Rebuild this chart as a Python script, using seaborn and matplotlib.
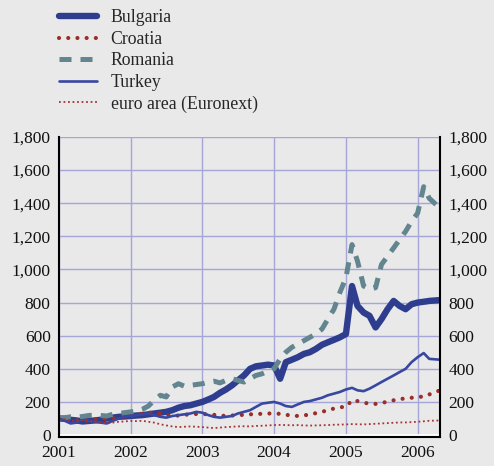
import pandas as pd
import matplotlib.pyplot as plt
import matplotlib.dates as mdates
from matplotlib.ticker import FuncFormatter
import seaborn as sns

# monthly index levels (Jan 2001 = 100)
bulgaria = [100, 98, 92, 88, 82, 85, 88, 92, 100, 105, 110, 112,
            115, 118, 120, 125, 130, 135, 140, 150, 165, 175, 180, 190,
            200, 215, 230, 255, 275, 300, 330, 360, 400, 415, 420, 425,
            420, 340, 440, 455, 470, 490, 500, 520, 545, 560, 575, 590,
            610, 900, 780, 740, 720, 650, 700, 760, 810, 780, 760, 790,
            800, 805, 810, 815]
croatia = [100, 95, 90, 88, 85, 88, 92, 95, 98, 100, 105, 110,
           115, 120, 130, 135, 135, 130, 120, 115, 118, 122, 125, 127,
           127, 125, 122, 118, 115, 118, 120, 122, 125, 127, 128, 130,
           130, 128, 122, 118, 115, 118, 125, 132, 140, 150, 160, 168,
           170, 210, 205, 195, 190, 188, 195, 200, 210, 218, 220, 225,
           230, 232, 245, 270]
romania = [100, 105, 110, 108, 112, 118, 120, 118, 115, 125, 130, 135,
           140, 145, 155, 175, 210, 240, 230, 290, 310, 295, 300, 305,
           310, 320, 325, 315, 330, 340, 330, 320, 340, 360, 370, 385,
           400, 460, 500, 530, 550, 570, 590, 610, 640, 700, 760, 860,
           950, 1150, 1050, 900, 880, 890, 1030, 1080, 1130, 1180, 1230, 1290,
           1340, 1500, 1430, 1370]
turkey = [100, 85, 70, 75, 90, 85, 80, 75, 70, 85, 100, 110,
          115, 120, 125, 130, 120, 110, 105, 115, 120, 125, 130, 140,
          135, 120, 110, 105, 110, 115, 130, 140, 150, 170, 190, 195,
          200, 190, 175, 170, 185, 200, 205, 215, 225, 240, 250, 260,
          275, 285, 270, 265, 280, 300, 320, 340, 360, 380, 400, 440,
          470, 495, 460, 455]
euro_area = [100, 95, 85, 88, 90, 85, 80, 75, 70, 75, 80, 82,
             85, 84, 86, 80, 75, 65, 58, 52, 48, 50, 52, 50,
             48, 45, 42, 45, 48, 50, 52, 53, 52, 55, 56, 58,
             60, 61, 60, 59, 60, 58, 57, 58, 59, 60, 62, 63,
             64, 66, 65, 64, 66, 68, 70, 72, 74, 76, 76, 78,
             80, 83, 86, 88]

dates = list(pd.date_range('2001-01-01', '2006-03-01', freq='MS')) + [pd.Timestamp('2006-04-25')]
year_ticks = ['2001', '2002', '2003', '2004', '2005', '2006']

bg = '#e9e9e9'
sns.set_theme(style='white')
plt.rcParams['font.family'] = ['Liberation Serif', 'DejaVu Serif']

fig = plt.figure(figsize=(4.94, 4.66), dpi=100, facecolor=bg)
ax = fig.add_axes([0.1194, 0.0622, 0.7713, 0.6438])
ax.set_facecolor(bg)

series = [
    ('Bulgaria', bulgaria, dict(color='#2f3d8f', lw=4.6, ls='-')),
    ('Croatia', croatia, dict(color='#9a2e28', lw=3.0, ls=(0, (0.01, 2.2)), dash_capstyle='round')),
    ('Romania', romania, dict(color='#62858f', lw=3.6, ls=(0, (2.4, 1.8)))),
    ('Turkey', turkey, dict(color='#3847a0', lw=1.9, ls='-')),
    ('euro area (Euronext)', euro_area, dict(color='#a83232', lw=1.3, ls=(0, (1, 1.5)))),
]

for name, vals, style in series:
    df = pd.DataFrame({'date': dates, 'value': vals})
    sns.lineplot(data=df, x='date', y='value', ax=ax, label=name, **style)

ax.set_xlim(pd.Timestamp('2001-01-01'), pd.Timestamp('2006-04-25'))
ax.set_ylim(-12, 1800)
ax.axhline(0, color='white', lw=2, zorder=1)

ax.set_yticks(range(0, 1801, 200))
ax.yaxis.set_major_formatter(FuncFormatter(lambda v, p: f'{int(v):,}'))
ax.set_xticks([pd.Timestamp(y + '-01-01') for y in year_ticks])
ax.xaxis.set_major_formatter(mdates.DateFormatter('%Y'))

ax.grid(True, color='#a6a6d6', lw=1)
ax.set_axisbelow(True)
ax.tick_params(axis='y', length=0, labelsize=12.5, labelleft=True, labelright=True, pad=6)
ax.tick_params(axis='x', direction='in', length=4, width=1, color='black', labelsize=12.5, pad=6)
for lab in ax.get_xticklabels() + ax.get_yticklabels():
    lab.set_color('#111111')
ax.set_xlabel('')
ax.set_ylabel('')

for side in ['left', 'right', 'bottom']:
    ax.spines[side].set_visible(True)
    ax.spines[side].set_color('black')
    ax.spines[side].set_linewidth(1.5)
ax.spines['top'].set_visible(False)

handles, labels = ax.get_legend_handles_labels()
ax.get_legend().remove()
fig.legend(handles, labels, loc='upper left', bbox_to_anchor=(0.087, 1.014), frameon=False,
           fontsize=12.8, handlelength=2.15, handletextpad=0.75, labelspacing=0.25)

fig.savefig('out.png', dpi=100, facecolor=bg)
